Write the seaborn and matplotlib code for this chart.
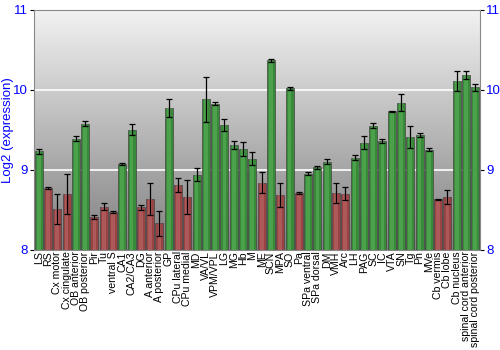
import numpy as np
import pandas as pd
import matplotlib
matplotlib.use("Agg")
import matplotlib.pyplot as plt
import seaborn as sns

# brain regions, left to right
regions = ["LS", "RS", "Cx motor", "Cx cingulate", "OB anterior", "OB posterior", "Pir", "Tu",
           "ventral S", "CA1", "CA2/CA3", "DG", "A anterior", "A posterior", "GP", "CPu lateral",
           "CPu medial", "MD", "VA/VL", "VPM/VPL", "LG", "MG", "Hb", "M", "ME", "SCN", "MPA", "SO",
           "Pa", "SPa ventral", "SPa dorsal", "DM", "VMH", "Arc", "LH", "PAG", "SC", "IC", "VTA",
           "SN", "Tg", "Pn", "MVe", "Cb vermis", "Cb lobe", "Cb nucleus", "spinal cord anterior",
           "spinal cord posterior"]
expression = [9.23, 8.77, 8.51, 8.70, 9.39, 9.575, 8.41, 8.54, 8.47, 9.07, 9.50, 8.53, 8.63, 8.33,
              9.77, 8.81, 8.66, 8.94, 9.88, 9.825, 9.56, 9.31, 9.26, 9.14, 8.84, 10.37, 8.69, 10.02,
              8.71, 8.95, 9.03, 9.10, 8.71, 8.70, 9.15, 9.34, 9.55, 9.36, 9.73, 9.84, 9.41, 9.435,
              9.25, 8.63, 8.66, 10.11, 10.18, 10.03]
err = [0.03, 0.01, 0.19, 0.25, 0.03, 0.03, 0.03, 0.04, 0.01, 0.01, 0.07, 0.03, 0.20, 0.16,
       0.11, 0.09, 0.21, 0.08, 0.28, 0.02, 0.08, 0.05, 0.09, 0.08, 0.13, 0.02, 0.15, 0.02,
       0.01, 0.02, 0.02, 0.03, 0.13, 0.08, 0.03, 0.08, 0.03, 0.03, 0.01, 0.11, 0.14, 0.02,
       0.02, 0.01, 0.09, 0.12, 0.05, 0.04]
level = ["high", "low", "low", "low", "high", "high", "low", "low", "low", "high", "high", "low",
         "low", "low", "high", "low", "low", "high", "high", "high", "high", "high", "high", "high",
         "low", "high", "low", "high", "low", "high", "high", "high", "low", "low", "high", "high",
         "high", "high", "high", "high", "high", "high", "high", "low", "low", "high", "high", "high"]

df = pd.DataFrame({"region": regions, "expression": expression, "err": err, "level": level})

plt.rcParams["font.family"] = ["Liberation Sans", "DejaVu Sans"]

fig = plt.figure(figsize=(5, 3.5), dpi=100)
ax = fig.add_axes([0.068, 0.286, 0.892, 0.686])

# grey gradient background
grad = np.linspace(0, 1, 256).reshape(-1, 1)
ax.imshow(grad, cmap=matplotlib.colors.LinearSegmentedColormap.from_list("bg", ["#f2f2f2", "#808080"]),
          extent=[-0.5, len(regions) - 0.5, 8, 11], aspect="auto", zorder=0)
for yv in [9, 10]:
    ax.axhline(yv, color="white", lw=1.2, zorder=1)

sns.barplot(data=df, x="region", y="expression", hue="level",
            palette={"high": "#2a962a", "low": "#a83535"}, dodge=False, width=0.86,
            legend=False, ax=ax, zorder=2, linewidth=0.5, edgecolor="#444444")
# lighter core for the rounded look
sns.barplot(data=df, x="region", y="expression", hue="level",
            palette={"high": "#4cc04c", "low": "#c85a5a"}, dodge=False, width=0.4,
            legend=False, ax=ax, zorder=2.5, linewidth=0, alpha=0.6)
ax.errorbar(np.arange(len(regions)), df["expression"], yerr=df["err"], fmt="none",
            ecolor="black", elinewidth=0.9, capsize=2, capthick=0.9, zorder=3)

ax.set_xlim(-0.5, len(regions) - 0.5)
ax.set_ylim(8, 11)
ax.set_yticks([8, 9, 10, 11])
ax.set_xlabel("")
ax.set_ylabel("Log2 (expression)", color="blue", fontsize=9.5)
ax.yaxis.set_label_coords(-0.045, 0.5)
ax.tick_params(axis="y", colors="black", labelcolor="blue", labelsize=9.5, length=3, pad=1.5,
               right=True, labelright=True)
ax.tick_params(axis="x", length=0, pad=1)
ax.set_xticks(range(len(regions)))
ax.set_xticklabels(regions, rotation=90, fontsize=7.6,
                   family=["Liberation Sans Narrow", "Liberation Sans", "DejaVu Sans"])
for s in ax.spines.values():
    s.set_color("#888888")

plt.savefig("out.png", dpi=100)
